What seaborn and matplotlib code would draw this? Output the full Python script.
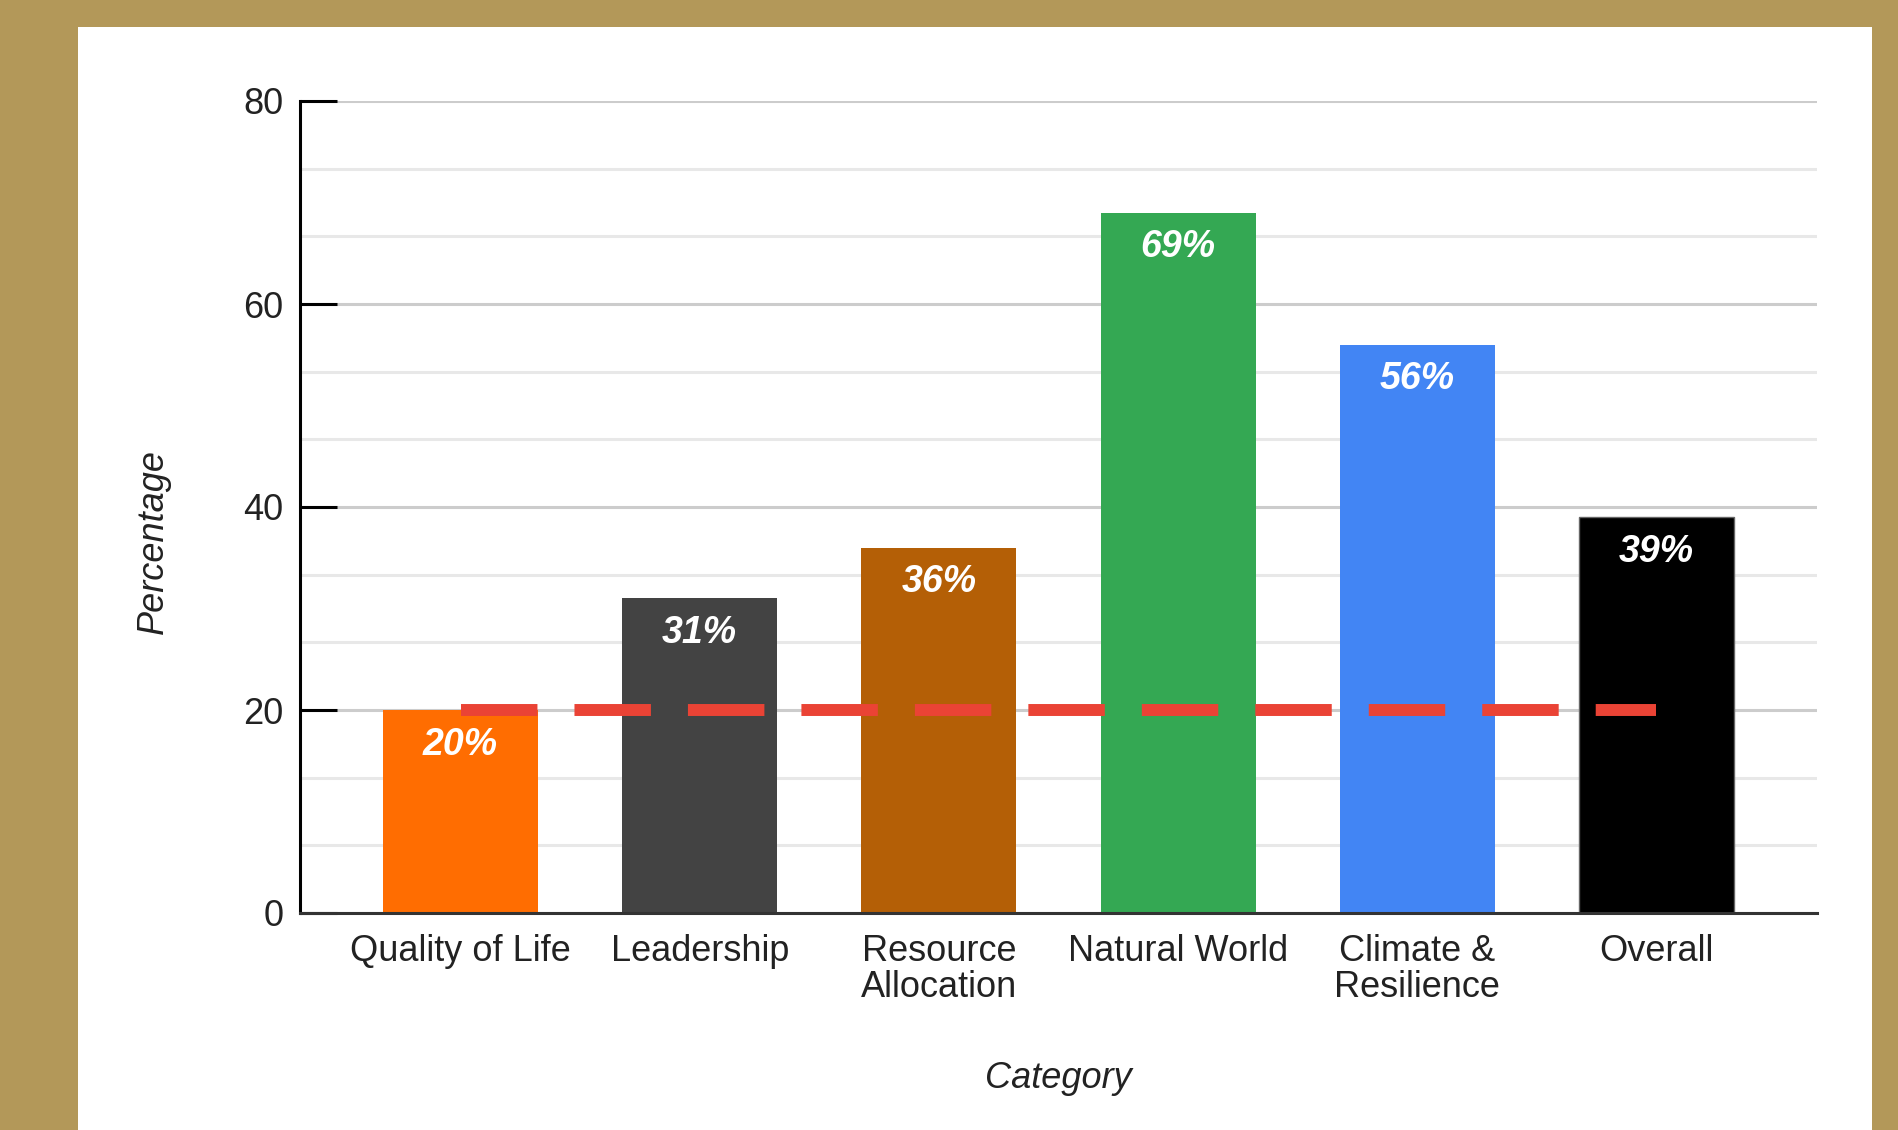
#!/usr/bin/env python3
"""Percentage by category, bar chart with a dashed target line at 20%."""

import matplotlib
matplotlib.use('Agg')
import matplotlib.pyplot as plt
from matplotlib.patches import Rectangle
from matplotlib.ticker import MultipleLocator
import pandas as pd
import seaborn as sns

# data
categories = ['Quality of Life', 'Leadership', 'Resource\nAllocation',
              'Natural World', 'Climate &\nResilience', 'Overall']
percentages = [20, 31, 36, 69, 56, 39]
bar_colors = ['#FF6D01', '#434343', '#B45F06', '#34A853', '#4285F4', '#000000']
target = 20
y_ticks = [0, 20, 40, 60, 80]

GOLD = '#B39859'
W, H = 1899, 1130
FS = 26

sns.set_theme(style='white')
plt.rcParams['font.family'] = ['Liberation Sans', 'DejaVu Sans']

df = pd.DataFrame({'Category': categories, 'Percentage': percentages})

fig = plt.figure(figsize=(W / 100, H / 100), dpi=100, facecolor=GOLD)
# white card sitting on the gold frame
fig.patches.append(Rectangle((78 / W, 0), (1872 - 78) / W, (H - 27) / H,
                             transform=fig.transFigure, facecolor='white',
                             edgecolor='none', zorder=-10))

ax = fig.add_axes([300 / W, (H - 913) / H, (1817 - 300) / W, (913 - 101) / H])
ax.set_facecolor('white')

sns.barplot(data=df, x='Category', y='Percentage', hue='Category',
            palette=bar_colors, legend=False, width=0.648, saturation=1,
            edgecolor='none', ax=ax, zorder=3)
ax.patches[-1].set_edgecolor('#666666')
ax.patches[-1].set_linewidth(1)

# labels inside the top of each bar
for bar, val in zip(ax.patches, percentages):
    ax.annotate(f'{val}%', (bar.get_x() + bar.get_width() / 2, bar.get_height()),
                xytext=(0, -25), textcoords='offset points',
                ha='center', va='center', color='white', fontsize=27,
                fontweight='bold', fontstyle='italic', zorder=5)

# dashed target line from first to last bar centre
ax.hlines(target, 0, len(categories) - 1, colors='#EA4335', linewidth=8.6,
          linestyles=(0, (6.4, 3.1)), capstyle='butt', zorder=4)

ax.set_xlim(-0.671, len(categories) - 1 + 0.671)
ax.set_ylim(0, 80)
ax.set_yticks(y_ticks)
ax.yaxis.set_minor_locator(MultipleLocator(20 / 3))
ax.grid(axis='y', which='major', color='#CCCCCC', linewidth=2.2, zorder=0)
ax.grid(axis='y', which='minor', color='#E8E8E8', linewidth=2.2, zorder=0)
ax.set_axisbelow(True)

for side in ['top', 'right']:
    ax.spines[side].set_visible(False)
ax.spines['left'].set_color('black')
ax.spines['left'].set_linewidth(2.2)
ax.spines['bottom'].set_color('#333333')
ax.spines['bottom'].set_linewidth(2.2)
ax.spines['bottom'].set_zorder(6)

ax.tick_params(axis='y', which='major', direction='in', length=26.6, width=2.2,
               color='black', pad=12, labelsize=FS, labelcolor='#222222', left=True)
ax.tick_params(axis='y', which='minor', length=0)
ax.tick_params(axis='x', length=0, pad=15, labelsize=FS, labelcolor='#222222')
for lbl in ax.get_xticklabels():
    lbl.set_linespacing(1.05)

ax.set_xlabel('Category', fontsize=FS, fontstyle='italic', color='#222222', va='center')
ax.set_ylabel('Percentage', fontsize=FS, fontstyle='italic', color='#222222', va='center')
ax.xaxis.set_label_coords(0.5, (913 - 1078) / (913 - 101))
ax.yaxis.set_label_coords((153 - 300) / (1817 - 300), (913 - 542) / (913 - 101))

fig.savefig('out.png', dpi=100, facecolor=GOLD)
